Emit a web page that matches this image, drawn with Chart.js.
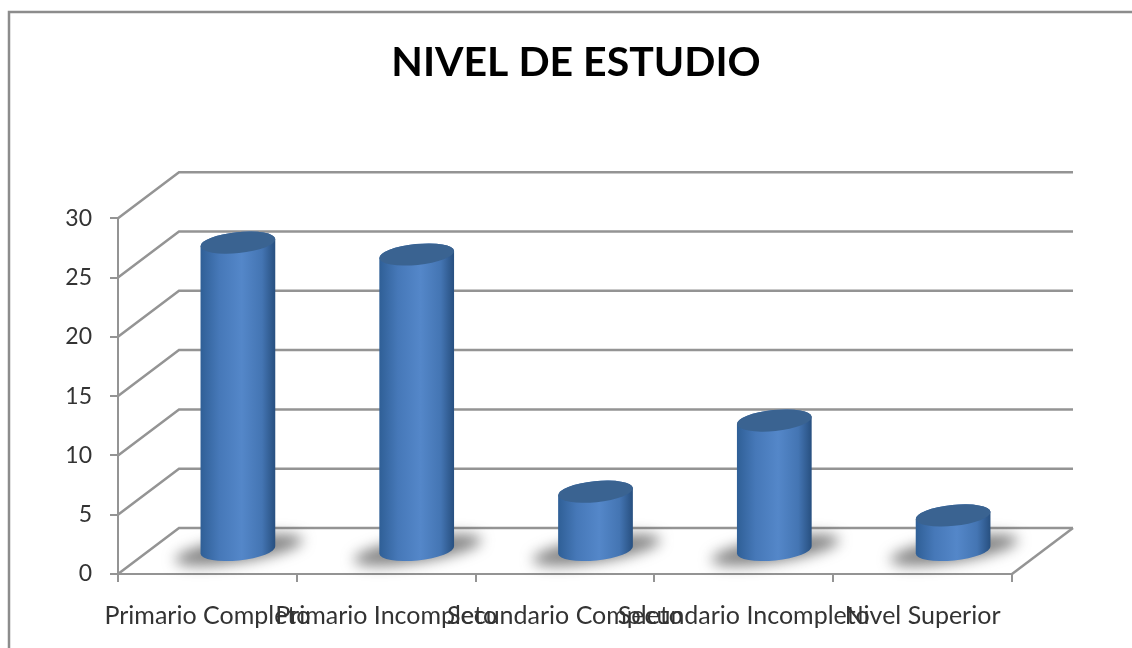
<!DOCTYPE html>
<html><head><meta charset="utf-8">
<style>html,body{margin:0;padding:0;background:#fff}#f{position:absolute;left:0;top:0;width:1132px;height:648px}</style>
<script src="https://cdn.jsdelivr.net/npm/chart.js@4"></script></head>
<body><div id="f"><canvas id="c" width="1132" height="648"></canvas></div>
<script>
const categories = ['Primario Completo','Primario Incompleto','Secundario Completo','Secundario Incompleto','Nivel Superior'];
const values = [26,25,5,11,3];
const titleText = 'NIVEL DE ESTUDIO';
const DX = 61, DY = 46, GRID = '#949494', FONT = 'Lato';

function cylinderPath(ctx,cx,top,base,rx,ry,rot){
  ctx.beginPath();
  ctx.ellipse(cx,base,rx,ry,rot,0,Math.PI,false);
  ctx.ellipse(cx,top,rx,ry,rot,Math.PI,Math.PI*2,false);
  ctx.closePath();
}
Chart.BarElement.prototype.draw = function(ctx){
  const props = this.getProps(['x','y','base','width']);
  const cx = props.x + DX/2, top = props.y - DY/2, base = props.base - DY/2;
  const rx = props.width/2, ry = 10.5, rot = -0.1;
  // floor shadow
  ctx.save();
  ctx.filter = 'blur(7px)';
  ctx.fillStyle = 'rgba(85,85,85,0.72)';
  ctx.beginPath();
  ctx.ellipse(cx+1,base,rx+27,12,-0.16,0,Math.PI*2);
  ctx.fill();
  ctx.restore();
  // body
  const g = ctx.createLinearGradient(cx-rx,0,cx+rx,0);
  g.addColorStop(0,'#2f5f96');
  g.addColorStop(0.25,'#4678b8');
  g.addColorStop(0.55,'#5487c9');
  g.addColorStop(0.82,'#4475b3');
  g.addColorStop(1,'#274f7f');
  ctx.fillStyle = g;
  cylinderPath(ctx,cx,top,base,rx,ry,rot);
  ctx.fill();
  // cap
  ctx.fillStyle = '#3a6391';
  ctx.beginPath();
  ctx.ellipse(cx,top,rx,ry,rot,0,Math.PI*2);
  ctx.fill();
};
const walls = {
  id:'walls',
  beforeDatasetsDraw(chart){
    const {ctx,chartArea:a,scales:{y}} = chart;
    ctx.save();
    ctx.strokeStyle = GRID; ctx.lineWidth = 2.5;
    y.ticks.forEach(t=>{
      const p = y.getPixelForValue(t.value);
      ctx.beginPath();
      ctx.moveTo(a.left,p);
      ctx.lineTo(a.left+DX,p-DY);
      ctx.lineTo(a.right+DX,p-DY);
      ctx.stroke();
    });
    const b = y.getPixelForValue(0);
    ctx.beginPath();
    ctx.moveTo(a.right,b);
    ctx.lineTo(a.right+DX,b-DY);
    ctx.stroke();
    ctx.restore();
  }
};
const frame = {
  id:'frame',
  beforeDraw(chart){
    const ctx = chart.ctx;
    ctx.save();
    ctx.strokeStyle = '#8c8c8c'; ctx.lineWidth = 2.5;
    ctx.beginPath();
    ctx.moveTo(9,648); ctx.lineTo(9,12); ctx.lineTo(1132,12);
    ctx.stroke();
    ctx.restore();
  }
};
new Chart(document.getElementById('c'),{
  type:'bar',
  data:{labels:categories,datasets:[{data:values,backgroundColor:'#4f81bd',categoryPercentage:1,barPercentage:0.42,clip:false}]},
  plugins:[frame,walls],
  options:{
    responsive:false,animation:false,
    layout:{padding:{left:20,right:0,top:0,bottom:0}},
    plugins:{
      legend:{display:false},tooltip:{enabled:false},
      title:{display:true,text:titleText,color:'#000',font:{family:FONT,size:41,weight:'bold'},padding:{top:38,bottom:131},align:'center'}
    },
    scales:{
      x:{
        grid:{drawOnChartArea:false,color:GRID,lineWidth:2,tickLength:8},
        border:{color:GRID,width:2},
        ticks:{autoSkip:false,maxRotation:0,minRotation:0,color:'#333',padding:19,font:{family:FONT,size:25}},
        afterFit(s){s.height=74;}
      },
      y:{
        min:0,max:30,
        grid:{drawOnChartArea:false,color:GRID,lineWidth:2,tickLength:8},
        border:{color:GRID,width:2},
        ticks:{stepSize:5,color:'#333',padding:18,font:{family:FONT,size:23}},
        afterFit(s){s.width=98;}
      },
      r:{
        position:'right',
        grid:{display:false},border:{display:false},
        ticks:{display:false},
        afterFit(s){s.width=120;}
      }
    }
  }
});
</script></body></html>
